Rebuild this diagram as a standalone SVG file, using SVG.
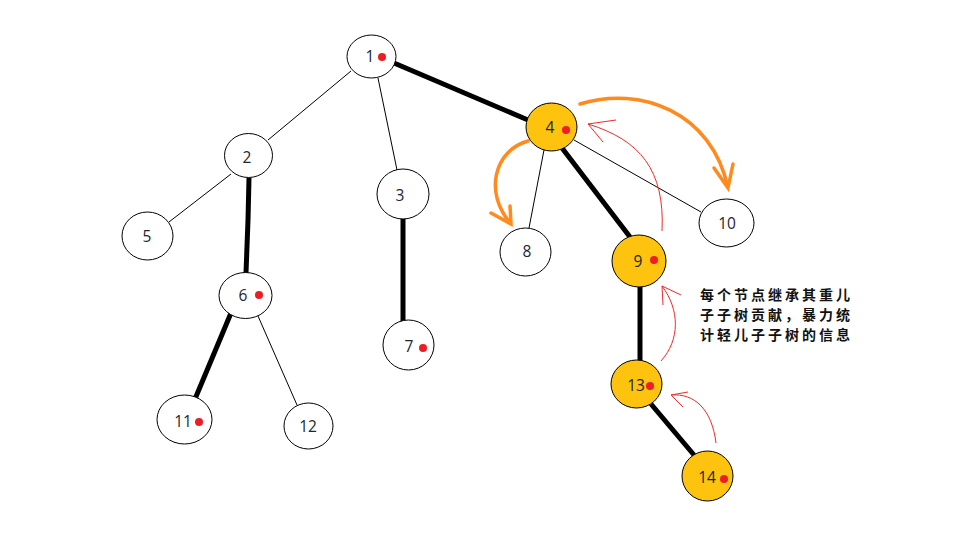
<svg xmlns="http://www.w3.org/2000/svg" width="960" height="540" viewBox="0 0 960 540">
<style>
.n{fill:#fff;stroke:#000;stroke-width:1}
.h{fill:#fdc30f;stroke:#000;stroke-width:1}
.t{font-family:"Open Sans","Noto Sans",sans-serif;font-size:15.5px;fill:#1c2530;text-anchor:middle}
.d{fill:#ee1c24}
.thin{stroke:#000;stroke-width:1;fill:none}
.thick{stroke:#000;stroke-width:5;fill:none}
.o{stroke:#ff8a1e;stroke-width:3.5;fill:none;stroke-linecap:round}
.r{stroke:#f02a2a;stroke-width:1;fill:none}
.c{font-family:"Noto Sans CJK SC",sans-serif;font-size:14px;font-weight:bold;fill:#111;letter-spacing:3px}
</style>
<rect width="960" height="540" fill="#fff"/>
<g id="connectors">
<line class="thin" x1="351" y1="71" x2="268" y2="140"/>
<line class="thin" x1="378" y1="78" x2="397" y2="170"/>
<line class="thin" x1="231" y1="174" x2="169" y2="222"/>
<line class="thin" x1="544" y1="150" x2="529" y2="228"/>
<line class="thin" x1="574" y1="140" x2="701" y2="212"/>
<line class="thin" x1="258" y1="316" x2="297" y2="405"/>
<line class="thick" x1="394" y1="63" x2="528" y2="120"/>
<polyline class="thick" points="249,178 248,220 246,273"/>
<line class="thick" x1="403" y1="218" x2="403" y2="322"/>
<line class="thick" x1="562" y1="148" x2="630" y2="237"/>
<line class="thick" x1="640" y1="287" x2="640" y2="362"/>
<line class="thick" x1="231" y1="313" x2="195" y2="399"/>
<line class="thick" x1="651" y1="404" x2="694" y2="455"/>
<path class="o" d="M580,104 C640,85 712,112 728,188 M714,168 L728,188 L733,164"/>
<path class="o" d="M528,141 C495,150 483,192 511,224 M491,213 L511,224 L510,206"/>
<path class="r" d="M662,231 C665,170 640,140 588,124 M616,120 L588,124 L603,142"/>
<path class="r" d="M661,361 C680,340 680,310 662,286 L681,295 M662,286 L663,305"/>
<path class="r" d="M716,443 C712,410 695,393 671,395 L688,392 M671,395 L683,407"/>
</g>
<g id="node1"><ellipse class="n" cx="371.5" cy="56.5" rx="24.5" ry="21.5"/><text class="t" x="370" y="62">1</text><circle class="d" cx="382" cy="57" r="4"/></g>
<g id="node2"><ellipse class="n" cx="248.5" cy="155.5" rx="24" ry="22"/><text class="t" x="247" y="163">2</text></g>
<g id="node3"><ellipse class="n" cx="403" cy="194" rx="26" ry="25"/><text class="t" x="400" y="201">3</text></g>
<g id="node4"><ellipse class="h" cx="551.5" cy="127" rx="25.5" ry="24"/><text class="t" x="550" y="133">4</text><circle class="d" cx="566" cy="130" r="4"/></g>
<g id="node5"><ellipse class="n" cx="147.5" cy="236" rx="25.5" ry="24"/><text class="t" x="147" y="242">5</text></g>
<g id="node6"><ellipse class="n" cx="245.5" cy="295.5" rx="26.5" ry="23"/><text class="t" x="243" y="301">6</text><circle class="d" cx="259" cy="295" r="4"/></g>
<g id="node7"><ellipse class="n" cx="408.5" cy="345" rx="25.5" ry="25"/><text class="t" x="409" y="352">7</text><circle class="d" cx="423" cy="348" r="4"/></g>
<g id="node8"><ellipse class="n" cx="525.5" cy="252" rx="25.5" ry="24"/><text class="t" x="527" y="257">8</text></g>
<g id="node9"><ellipse class="h" cx="639" cy="261" rx="27" ry="26"/><text class="t" x="638" y="267">9</text><circle class="d" cx="654" cy="260" r="4"/></g>
<g id="node10"><ellipse class="n" cx="726.5" cy="223" rx="27.5" ry="24"/><text class="t" x="727" y="229">10</text></g>
<g id="node11"><ellipse class="n" cx="184.5" cy="419.5" rx="27.5" ry="24.5"/><text class="t" x="183" y="427">11</text><circle class="d" cx="199" cy="422" r="4"/></g>
<g id="node12"><ellipse class="n" cx="308.5" cy="426" rx="24.5" ry="23"/><text class="t" x="308" y="432">12</text></g>
<g id="node13"><ellipse class="h" cx="636.5" cy="384" rx="25.5" ry="24"/><text class="t" x="636" y="391">13</text><circle class="d" cx="650" cy="386" r="4"/></g>
<g id="node14"><ellipse class="h" cx="707.5" cy="476" rx="25.5" ry="25"/><text class="t" x="707" y="483">14</text><circle class="d" cx="724" cy="479" r="4"/></g>
<g id="note">
<text class="c" x="700" y="300">每个节点继承其重儿</text>
<text class="c" x="700" y="320">子子树贡献，暴力统</text>
<text class="c" x="700" y="340">计轻儿子子树的信息</text>
</g>
</svg>
